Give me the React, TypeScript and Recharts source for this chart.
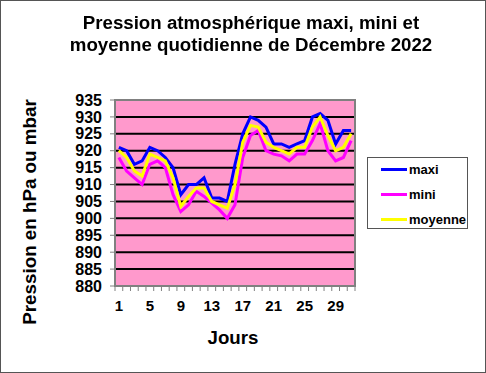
import { CartesianGrid, Line, LineChart, ReferenceArea, XAxis, YAxis } from "recharts";

const FONT = "'Liberation Sans', Arial, sans-serif";

// daily values, december 2022 (hPa)
const days = Array.from({ length: 31 }, (_, i) => i + 1);
const maxi = [921, 920, 916, 917, 921, 920, 918, 915, 907, 910, 910, 912, 906, 906, 905, 916,
  925, 930, 929, 927, 922, 922, 921, 922, 923, 930, 931, 929, 922, 926, 926];
const mini = [918, 914, 912, 910, 916, 917, 915, 907, 902, 904, 908, 906.5, 904.5, 902.5, 900, 904,
  918, 924.5, 926, 920, 919, 918.5, 917, 919, 919, 923, 928, 920, 917, 918, 923];
const moyenne = [920, 918, 914, 912.5, 919, 918, 917, 912, 903.5, 906.5, 909, 909, 905, 904, 903, 910,
  922.5, 927.5, 927, 922.5, 921, 920, 919, 921, 921, 927, 930, 924.5, 920, 921, 925];
const yTicks = [880, 885, 890, 895, 900, 905, 910, 915, 920, 925, 930, 935];
const xLabels = [1, 5, 9, 13, 17, 21, 25, 29];
const xBounds = Array.from({ length: 32 }, (_, i) => i + 0.5);

const series = [
  { key: "maxi", color: "#0000FF" },
  { key: "mini", color: "#FF00FF" },
  { key: "moyenne", color: "#FFFF00" },
];

const data = days.map((d, i) => ({ day: d, maxi: maxi[i], mini: mini[i], moyenne: moyenne[i] }));

const HALF = 240 / 31 / 2;

function XTick(props: any) {
  const { x, y, payload } = props;
  const day = payload.value + 0.5;
  return (
    <g>
      <line x1={x} y1={y} x2={x} y2={y + 5} stroke="#808080" strokeWidth={1} />
      {xLabels.includes(day) && (
        <text x={x + HALF} y={y + 25} textAnchor="middle" fontFamily={FONT} fontWeight="bold"
          fontSize={15} fill="#000">{day}</text>
      )}
    </g>
  );
}

export default function App() {
  return (
    <div style={{ position: "fixed", left: 0, top: 0, width: 486, height: 373, background: "#fff", fontFamily: FONT }}>
      <div style={{ position: "absolute", left: 0, top: 0, width: 486, height: 373, boxSizing: "border-box",
        border: "1px solid #555" }} />
      <LineChart width={486} height={373} data={data} margin={{ top: 100, right: 131, left: 0, bottom: 0 }}>
        <CartesianGrid vertical={false} stroke="#000" strokeWidth={2} fill="#FF99CC" fillOpacity={1} />
        <XAxis dataKey="day" type="number" domain={[0.5, 31.5]} ticks={xBounds} interval={0}
          height={87} tickLine={false} tickSize={0} tickMargin={0} tick={<XTick />}
          axisLine={{ stroke: "#808080", strokeWidth: 2 }} />
        <YAxis domain={[880, 935]} ticks={yTicks} interval={0} width={115} tickSize={5} tickMargin={8}
          tickLine={{ stroke: "#808080" }} axisLine={{ stroke: "#808080", strokeWidth: 2 }}
          tick={{ fontSize: 16, fontWeight: "bold", fill: "#000", fontFamily: FONT }} />
        <ReferenceArea x1={0.5} x2={31.5} y1={880} y2={935} fill="none" stroke="#808080" strokeWidth={2}
          ifOverflow="visible" />
        {series.map((s) => (
          <Line key={s.key} dataKey={s.key} type="linear" stroke={s.color} strokeWidth={3}
            dot={false} isAnimationActive={false} />
        ))}
      </LineChart>

      <div style={{ position: "absolute", left: 8, top: 12, width: 486, textAlign: "center", fontSize: 18.7,
        fontWeight: "bold", lineHeight: "22px" }}>
        Pression atmosphérique maxi, mini et<br />moyenne quotidienne de Décembre 2022
      </div>
      <div style={{ position: "absolute", left: 30, top: 212, transform: "translate(-50%, -50%) rotate(-90deg)",
        whiteSpace: "nowrap", fontSize: 18.8, fontWeight: "bold" }}>
        Pression en hPa ou mbar
      </div>
      <div style={{ position: "absolute", left: 233, top: 338, transform: "translate(-50%, -50%)",
        fontSize: 18.7, fontWeight: "bold" }}>
        Jours
      </div>
      <div style={{ position: "absolute", left: 367, top: 157, width: 101, height: 72, boxSizing: "border-box",
        border: "1px solid #555", background: "#fff" }}>
        {series.map((s, i) => (
          <div key={s.key} style={{ position: "absolute", left: 0, top: 3 + i * 25, height: 16, display: "flex",
            alignItems: "center" }}>
            <div style={{ marginLeft: 13, width: 26, height: 3, background: s.color }} />
            <span style={{ marginLeft: 2, fontSize: 13, fontWeight: "bold" }}>{s.key}</span>
          </div>
        ))}
      </div>
    </div>
  );
}
